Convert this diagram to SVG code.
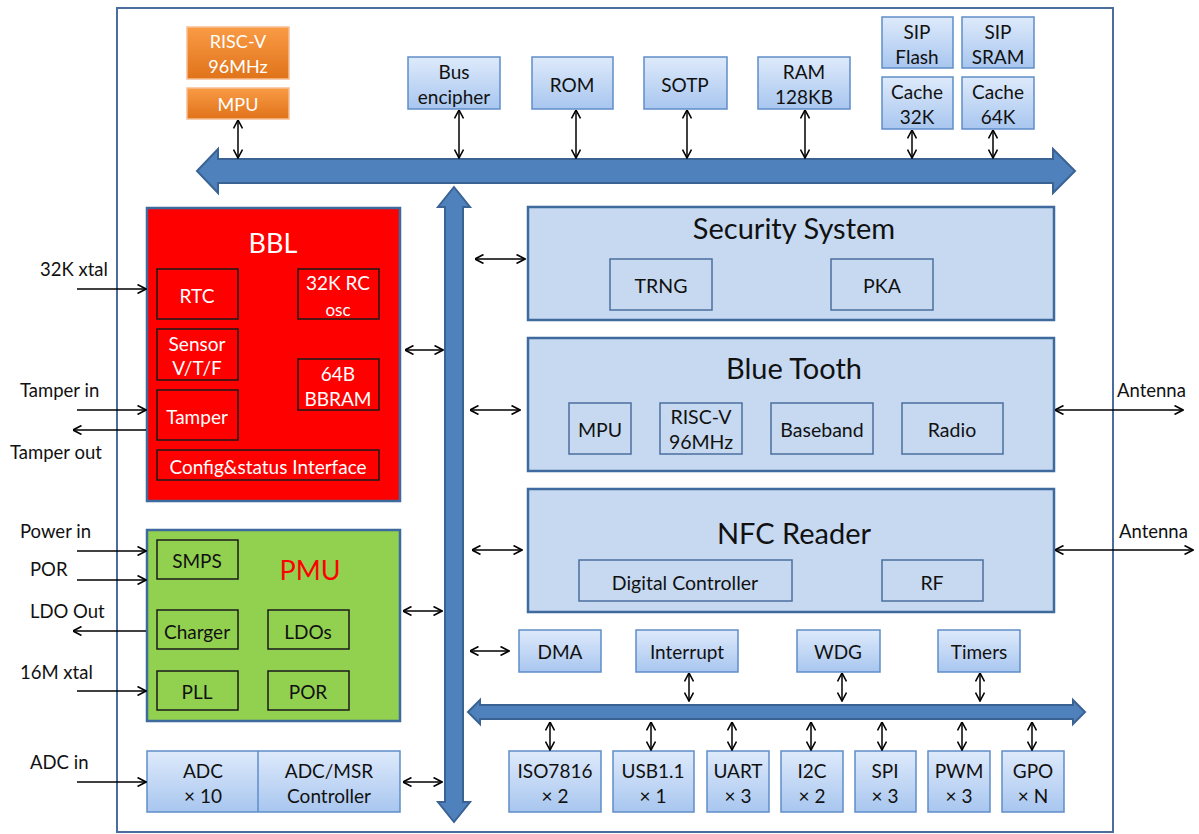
<svg xmlns="http://www.w3.org/2000/svg" width="1199" height="834" viewBox="0 0 1199 834">
<defs>
<linearGradient id="lb" x1="0" y1="0" x2="0" y2="1"><stop offset="0" stop-color="#DEEAFB"/><stop offset="1" stop-color="#A8C6EF"/></linearGradient>
<linearGradient id="og" x1="0" y1="0" x2="0" y2="1"><stop offset="0" stop-color="#F99B45"/><stop offset="1" stop-color="#E0731A"/></linearGradient>
<marker id="ah" viewBox="0 0 10 10" refX="9.5" refY="5" markerWidth="10" markerHeight="10" markerUnits="userSpaceOnUse" orient="auto-start-reverse"><path d="M1,0.5 L9.5,5 L1,9.5" fill="none" stroke="#000" stroke-width="1.6"/></marker>
<style>
text{font-family:Lato,"Open Sans","Liberation Sans",sans-serif;text-anchor:middle;dominant-baseline:central;fill:#111}
.lbl{font-size:18.5px;text-anchor:start}
.bx{fill:url(#lb);stroke:#5F8DC8;stroke-width:1.5}
.or{fill:url(#og);stroke:#F6BE94;stroke-width:1.5}
.orT{fill:#fff;font-size:18px}
.big{fill:#C6D9F1;stroke:#3F6A9E;stroke-width:2.5}
.inn{fill:none;stroke:#4B6F9F;stroke-width:1.5}
.rin{fill:none;stroke:#1a1a1a;stroke-width:1.5}
.wt{fill:#fff;font-size:19px}
.t{font-size:19px}
.t2{font-size:19.5px}
.ttl{font-size:29px}
.bus{fill:#4F81BD;stroke:#3A6394;stroke-width:2}
.cn line{stroke:#000;stroke-width:1.5;marker-end:url(#ah)}
.cn line.d{marker-start:url(#ah)}
</style>
</defs>
<rect width="1199" height="834" fill="#fff"/>
<rect x="117" y="8" width="996" height="824" fill="none" stroke="#4A6D9E" stroke-width="2"/>

<g id="buses">
<polygon class="bus" points="197,171 218,149 218,159 1053,159 1053,149 1075,171 1053,193 1053,183 218,183 218,193"/>
<polygon class="bus" points="454,187 470,207 463,207 463,802 470,802 454,822 438,802 445,802 445,207 438,207"/>
<polygon class="bus" points="468,712 480,700 480,705 1073,705 1073,700 1085,712 1073,724 1073,719 480,719 480,724"/>
</g>

<g id="risc-v"><rect class="or" x="187" y="27" width="102" height="52"/><text class="orT" x="238" y="41">RISC-V</text><text class="orT" x="238" y="66">96MHz</text></g>
<g id="mpu-top"><rect class="or" x="187" y="88" width="102" height="31"/><text class="orT" x="238" y="104">MPU</text></g>
<g id="bus-encipher"><rect class="bx" x="408" y="57" width="92" height="52"/><text class="t" x="454" y="71">Bus</text><text class="t" x="454" y="96">encipher</text></g>
<g id="rom"><rect class="bx" x="532" y="57" width="81" height="52"/><text class="t" x="572" y="84">ROM</text></g>
<g id="sotp"><rect class="bx" x="644" y="57" width="83" height="52"/><text class="t" x="685" y="84">SOTP</text></g>
<g id="ram"><rect class="bx" x="758" y="57" width="92" height="52"/><text class="t" x="804" y="71">RAM</text><text class="t" x="804" y="96">128KB</text></g>
<g id="sip-flash"><rect class="bx" x="882" y="17" width="71" height="51"/><text class="t" x="917" y="31">SIP</text><text class="t" x="917" y="56">Flash</text></g>
<g id="sip-sram"><rect class="bx" x="962" y="17" width="72" height="51"/><text class="t" x="998" y="31">SIP</text><text class="t" x="998" y="56">SRAM</text></g>
<g id="cache32"><rect class="bx" x="882" y="77" width="71" height="52"/><text class="t" x="917" y="91">Cache</text><text class="t" x="917" y="116">32K</text></g>
<g id="cache64"><rect class="bx" x="962" y="77" width="72" height="52"/><text class="t" x="998" y="91">Cache</text><text class="t" x="998" y="116">64K</text></g>

<g id="bbl">
<rect x="147" y="208" width="253" height="293" fill="#FF0000" stroke="#3F6A9E" stroke-width="2.5"/>
<text x="273" y="242" style="fill:#fff;font-size:27px">BBL</text>
<rect class="rin" x="157" y="269" width="81" height="50"/><text class="wt" x="197" y="295">RTC</text>
<rect class="rin" x="298" y="269" width="81" height="50"/><text class="wt" x="338" y="282">32K RC</text><text class="wt" x="338" y="309" style="font-size:17px">osc</text>
<rect class="rin" x="157" y="329" width="81" height="51"/><text class="wt" x="197" y="343">Sensor</text><text class="wt" x="197" y="367">V/T/F</text>
<rect class="rin" x="298" y="359" width="81" height="51"/><text class="wt" x="338" y="373">64B</text><text class="wt" x="338" y="398">BBRAM</text>
<rect class="rin" x="157" y="390" width="81" height="50"/><text class="wt" x="197" y="416">Tamper</text>
<rect class="rin" x="157" y="450" width="222" height="30"/><text class="wt" x="268" y="466">Config&amp;status Interface</text>
</g>

<g id="pmu">
<rect x="147" y="530" width="253" height="191" fill="#92D050" stroke="#3F6A9E" stroke-width="2.5"/>
<text x="310" y="569" style="fill:#FF0000;font-size:27px">PMU</text>
<rect class="rin" x="157" y="540" width="81" height="39"/><text class="t" x="197" y="560">SMPS</text>
<rect class="rin" x="157" y="610" width="81" height="39"/><text class="t" x="197" y="631">Charger</text>
<rect class="rin" x="268" y="610" width="81" height="39"/><text class="t" x="308" y="631">LDOs</text>
<rect class="rin" x="157" y="671" width="81" height="39"/><text class="t" x="197" y="691">PLL</text>
<rect class="rin" x="268" y="671" width="81" height="39"/><text class="t" x="308" y="691">POR</text>
</g>

<g id="adc">
<rect class="bx" x="147" y="751" width="253" height="61"/>
<line x1="258" y1="751" x2="258" y2="812" stroke="#5F8DC8" stroke-width="1.5"/>
<text class="t" x="203" y="770">ADC</text><text class="t" x="203" y="795">× 10</text>
<text class="t" x="329" y="770">ADC/MSR</text><text class="t" x="329" y="795">Controller</text>
</g>

<g id="security">
<rect class="big" x="528" y="207" width="526" height="113"/>
<text class="ttl" x="794" y="227">Security System</text>
<rect class="inn" x="610" y="259" width="102" height="51"/><text class="t2" x="661" y="285">TRNG</text>
<rect class="inn" x="831" y="259" width="102" height="51"/><text class="t2" x="882" y="285">PKA</text>
</g>

<g id="bluetooth">
<rect class="big" x="528" y="338" width="526" height="133"/>
<text class="ttl" x="794" y="367">Blue Tooth</text>
<rect class="inn" x="569" y="403" width="62" height="51"/><text class="t2" x="600" y="429">MPU</text>
<rect class="inn" x="660" y="403" width="82" height="51"/><text class="t2" x="701" y="416">RISC-V</text><text class="t2" x="701" y="441">96MHz</text>
<rect class="inn" x="771" y="403" width="102" height="51"/><text class="t2" x="822" y="429">Baseband</text>
<rect class="inn" x="902" y="403" width="101" height="51"/><text class="t2" x="952" y="429">Radio</text>
</g>

<g id="nfc">
<rect class="big" x="528" y="489" width="526" height="123"/>
<text class="ttl" x="794" y="532">NFC Reader</text>
<rect class="inn" x="579" y="560" width="213" height="41"/><text class="t2" x="685" y="582">Digital Controller</text>
<rect class="inn" x="882" y="560" width="101" height="41"/><text class="t2" x="932" y="582">RF</text>
</g>

<g id="dma"><rect class="bx" x="519" y="630" width="82" height="42"/><text class="t" x="560" y="651">DMA</text></g>
<g id="interrupt"><rect class="bx" x="636" y="630" width="102" height="42"/><text class="t" x="687" y="651">Interrupt</text></g>
<g id="wdg"><rect class="bx" x="797" y="630" width="83" height="42"/><text class="t" x="838" y="651">WDG</text></g>
<g id="timers"><rect class="bx" x="938" y="630" width="82" height="42"/><text class="t" x="979" y="651">Timers</text></g>

<g id="iso7816"><rect class="bx" x="509" y="751" width="92" height="61"/><text class="t" x="555" y="770">ISO7816</text><text class="t" x="555" y="795">× 2</text></g>
<g id="usb"><rect class="bx" x="613" y="751" width="81" height="61"/><text class="t" x="653" y="770">USB1.1</text><text class="t" x="653" y="795">× 1</text></g>
<g id="uart"><rect class="bx" x="707" y="751" width="62" height="61"/><text class="t" x="738" y="770">UART</text><text class="t" x="738" y="795">× 3</text></g>
<g id="i2c"><rect class="bx" x="781" y="751" width="62" height="61"/><text class="t" x="812" y="770">I2C</text><text class="t" x="812" y="795">× 2</text></g>
<g id="spi"><rect class="bx" x="855" y="751" width="61" height="61"/><text class="t" x="885" y="770">SPI</text><text class="t" x="885" y="795">× 3</text></g>
<g id="pwm"><rect class="bx" x="928" y="751" width="62" height="61"/><text class="t" x="959" y="770">PWM</text><text class="t" x="959" y="795">× 3</text></g>
<g id="gpo"><rect class="bx" x="1002" y="751" width="62" height="61"/><text class="t" x="1033" y="770">GPO</text><text class="t" x="1033" y="795">× N</text></g>

<g id="labels">
<text class="lbl" x="40" y="269">32K xtal</text>
<text class="lbl" x="20" y="390">Tamper in</text>
<text class="lbl" x="10" y="452">Tamper out</text>
<text class="lbl" x="20" y="531">Power in</text>
<text class="lbl" x="30" y="569">POR</text>
<text class="lbl" x="30" y="611">LDO Out</text>
<text class="lbl" x="20" y="672">16M xtal</text>
<text class="lbl" x="30" y="762">ADC in</text>
<text class="lbl" x="1117" y="390">Antenna</text>
<text class="lbl" x="1119" y="531">Antenna</text>
</g>

<g id="connectors" class="cn">
<line class="d" x1="238" y1="120" x2="238" y2="158"/>
<line class="d" x1="459" y1="110" x2="459" y2="158"/>
<line class="d" x1="576" y1="110" x2="576" y2="158"/>
<line class="d" x1="687" y1="110" x2="687" y2="158"/>
<line class="d" x1="805" y1="110" x2="805" y2="158"/>
<line class="d" x1="912" y1="130" x2="912" y2="158"/>
<line class="d" x1="993" y1="130" x2="993" y2="158"/>
<line x1="77" y1="289" x2="146" y2="289"/>
<line x1="77" y1="410" x2="146" y2="410"/>
<line x1="146" y1="430" x2="73" y2="430"/>
<line x1="77" y1="551" x2="146" y2="551"/>
<line x1="77" y1="580" x2="146" y2="580"/>
<line x1="146" y1="631" x2="73" y2="631"/>
<line x1="77" y1="691" x2="146" y2="691"/>
<line x1="77" y1="782" x2="146" y2="782"/>
<line class="d" x1="405" y1="350" x2="443" y2="350"/>
<line class="d" x1="403" y1="611" x2="442" y2="611"/>
<line class="d" x1="403" y1="782" x2="442" y2="782"/>
<line class="d" x1="475" y1="259" x2="525" y2="259"/>
<line class="d" x1="470" y1="410" x2="520" y2="410"/>
<line class="d" x1="472" y1="550" x2="522" y2="550"/>
<line class="d" x1="470" y1="651" x2="509" y2="651"/>
<line class="d" x1="1055" y1="410" x2="1183" y2="410"/>
<line class="d" x1="1055" y1="550" x2="1193" y2="550"/>
<line class="d" x1="689" y1="673" x2="689" y2="701"/>
<line class="d" x1="842" y1="673" x2="842" y2="701"/>
<line class="d" x1="980" y1="673" x2="980" y2="701"/>
<line class="d" x1="550" y1="722" x2="550" y2="750"/>
<line class="d" x1="651" y1="722" x2="651" y2="750"/>
<line class="d" x1="732" y1="722" x2="732" y2="750"/>
<line class="d" x1="811" y1="722" x2="811" y2="750"/>
<line class="d" x1="882" y1="722" x2="882" y2="750"/>
<line class="d" x1="962" y1="722" x2="962" y2="750"/>
<line class="d" x1="1032" y1="722" x2="1032" y2="750"/>
</g>
</svg>
